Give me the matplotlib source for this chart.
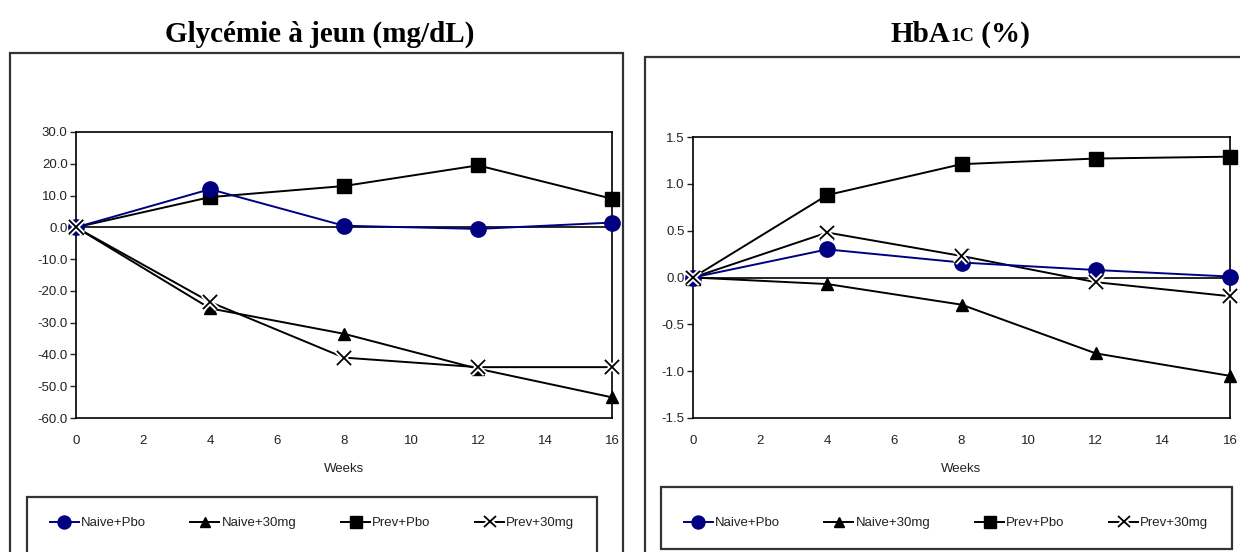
import matplotlib
matplotlib.use("Agg")
import matplotlib.pyplot as plt
import matplotlib.patheffects as pe
from matplotlib.patches import Rectangle
from matplotlib.lines import Line2D

weeks = [0, 4, 8, 12, 16]

# Fasting glycemia change (mg/dL)
glu_naive_pbo = [0.0, 12.0, 0.5, -0.5, 1.5]
glu_naive_30 = [0.0, -25.5, -33.5, -44.5, -53.5]
glu_prev_pbo = [0.0, 9.5, 13.0, 19.5, 9.0]
glu_prev_30 = [0.0, -23.5, -41.0, -44.0, -44.0]

# HbA1c change (%)
hba_naive_pbo = [0.0, 0.30, 0.16, 0.08, 0.01]
hba_naive_30 = [0.0, -0.07, -0.29, -0.81, -1.05]
hba_prev_pbo = [0.0, 0.88, 1.21, 1.27, 1.29]
hba_prev_30 = [0.0, 0.48, 0.23, -0.05, -0.20]

labels = ["Naive+Pbo", "Naive+30mg", "Prev+Pbo", "Prev+30mg"]

W, H = 1240, 552
plt.rcParams["font.family"] = ["Liberation Sans", "DejaVu Sans"]
fig = plt.figure(figsize=(W / 100, H / 100), dpi=100)

def fx(px):
    return px / W

def fy(py):
    return 1 - py / H

def frame(x0, y0, x1, y1):
    fig.patches.append(Rectangle((fx(x0), fy(y1)), fx(x1) - fx(x0), fy(y0) - fy(y1),
                                 transform=fig.transFigure, fill=False,
                                 ec="#333333", lw=1.6, zorder=0))

NAVY = "#000080"
halo = [pe.withStroke(linewidth=4, foreground="white")]
TXT = "#222222"

def styles():
    return [
        dict(color=NAVY, marker="o", ms=11, mfc=NAVY, mec=NAVY),
        dict(color="black", marker="^", ms=9, mfc="black", mec="black"),
        dict(color="black", marker="s", ms=10, mfc="black", mec="black"),
        dict(color="black", marker="x", ms=10, mew=1.3, mec="black"),
    ]

def panel(rect, series, ylim, yticks):
    ax = fig.add_axes(rect)
    st = styles()
    for i in [2, 1, 3, 0]:
        ax.plot(weeks, series[i], lw=1.4, clip_on=False,
                zorder=3 + (i == 0), **st[i])
        if i == 3:
            ax.plot(weeks, series[i], ls="none", marker="x", ms=10, mew=1.3,
                    mec="black", clip_on=False, zorder=6, path_effects=halo)
    ax.axhline(0, color="black", lw=1.2, zorder=2)
    ax.set_xlim(0, 16)
    ax.set_ylim(*ylim)
    ax.set_xticks(range(0, 17, 2))
    ax.set_yticks(yticks)
    ax.set_yticklabels(["{:.1f}".format(v) for v in yticks])
    ax.tick_params(axis="x", length=0, pad=12, labelsize=9.5, colors=TXT)
    ax.tick_params(axis="y", length=4, width=1, direction="out", pad=2,
                   labelsize=9.5, colors=TXT)
    for s in ax.spines.values():
        s.set_linewidth(1.2)
    ax.set_xlabel("Weeks", fontsize=9.5, labelpad=12, color=TXT)
    return ax

panel([fx(76), fy(418), fx(612) - fx(76), fy(132) - fy(418)],
      [glu_naive_pbo, glu_naive_30, glu_prev_pbo, glu_prev_30],
      (-60, 30), [30, 20, 10, 0, -10, -20, -30, -40, -50, -60])
panel([fx(693), fy(418), fx(1230) - fx(693), fy(137) - fy(418)],
      [hba_naive_pbo, hba_naive_30, hba_prev_pbo, hba_prev_30],
      (-1.5, 1.5), [1.5, 1.0, 0.5, 0.0, -0.5, -1.0, -1.5])

# outer frames and legend boxes
frame(10, 53, 623, 560)
frame(645, 57, 1250, 560)
frame(27, 497, 597, 560)
frame(661, 487, 1232, 549)

def legend(cx, cy):
    st = styles()
    handles = []
    for i in range(4):
        kw = dict(st[i])
        kw["ms"] = kw["ms"] * 0.85
        if i == 3:
            handles.append((Line2D([], [], lw=1.4, color="black"),
                            Line2D([], [], ls="none", marker="x", ms=8.5,
                                   mew=1.3, mec="black", path_effects=halo)))
        else:
            handles.append(Line2D([], [], lw=1.4, **kw))
    fig.legend(handles, labels, loc="center", bbox_to_anchor=(fx(cx), fy(cy)),
               ncol=4, frameon=False, fontsize=9.5, handlelength=2.2,
               handletextpad=0.15, columnspacing=3.4, labelcolor=TXT)

legend(312, 523)
legend(946, 523)

# titles
TY = fy(34)
fig.text(fx(320), TY, "Glycémie à jeun (mg/dL)", ha="center", va="center",
         family="Liberation Serif", fontweight="bold", fontsize=21)
parts = [("HbA", 21, 0.0), ("1C", 14, -0.005), (" (%)", 21, 0.0)]
fig.canvas.draw()
r = fig.canvas.get_renderer()
# measure total width, then place pieces centred on x=960
tmp = [fig.text(0, 0, s, family="Liberation Serif", fontweight="bold", fontsize=fs)
       for s, fs, _ in parts]
widths = [t.get_window_extent(r).width for t in tmp]
for t in tmp:
    t.remove()
x = 960 - sum(widths) / 2
for (s, fs, dy), w in zip(parts, widths):
    fig.text(fx(x), TY + dy, s, ha="left", va="center",
             family="Liberation Serif", fontweight="bold", fontsize=fs)
    x += w

fig.savefig("out.png", dpi=100)
